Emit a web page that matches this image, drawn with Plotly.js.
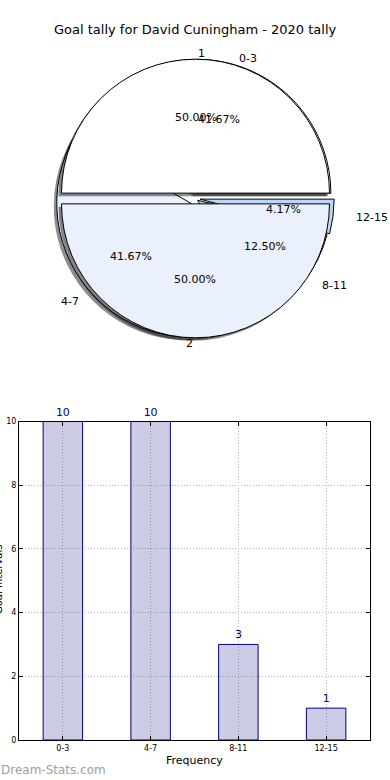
<!DOCTYPE html>
<html>
<head>
<meta charset="utf-8">
<script src="https://cdn.plot.ly/plotly-3.0.1.min.js"></script>
<style>html,body{margin:0;padding:0;background:#fff;}#chart{width:390px;height:780px;}</style>
</head>
<body>
<div id="chart"></div>
<script>
// ---- data ----
const categories = ['0-3', '4-7', '8-11', '12-15'];
const counts = [10, 10, 3, 1];
const halfLabels = ['1', '2'];
const halfValues = [12, 12];
const titleText = 'Goal tally for David Cuningham - 2020 tally';
const xTitle = 'Frequency';
const yTitle = 'Goal Intervals';
const watermark = 'Dream-Stats.com';

// ---- styles ----
const W = 390, H = 780;
const FONT = 'DejaVu Sans, sans-serif';
const pieColors = ['#ffffff', '#eaf1fd', '#bcd5fa', '#bcd5fa'];
const halfColors = ['#ffffff', '#eaf1fd'];
const piePull = [0.04, 0.05, 0.02, 0.035];
const halfPull = [0.04, 0.04];
const cx = 195.5, cy = 198.5, R = 134;     // pie center/radius in px
const tRx = 140.5, tRy = 127;               // text ellipse radii

function pieDomain(pulls, dx, dy) {
  const mp = Math.max(...pulls);
  const half = R * (1 + mp);
  return {
    x: [(cx + dx - half) / W, (cx + dx + half) / W],
    y: [1 - (cy + dy + half) / H, 1 - (cy + dy - half) / H]
  };
}

// Plotly (counterclockwise) puts the END of the first slice at `rotation`;
// make the first slice START at 3 o'clock like the reference.
function startAt3(values) {
  const total = values.reduce((a, b) => a + b, 0);
  return 90 - values[0] / total * 360;
}

function pieTrace(labels, values, colors, pulls, dx, dy, shadow) {
  return {
    type: 'pie', labels: labels, values: values, sort: false,
    direction: 'counterclockwise', rotation: startAt3(values),
    pull: pulls, textinfo: 'none', hoverinfo: 'label+percent',
    showlegend: false,
    marker: shadow
      ? {colors: labels.map(() => 'rgba(0,0,0,0.45)'), line: {width: 0}}
      : {colors: colors, line: {color: '#000000', width: 1}},
    domain: pieDomain(pulls, dx, dy)
  };
}

const annotations = [];
function pieTexts(labels, values, pulls) {
  const total = values.reduce((a, b) => a + b, 0);
  let start = 0;
  values.forEach((v, i) => {
    const frac = v / total;
    const th = (start + frac / 2) * 2 * Math.PI;
    start += frac;
    const c = Math.cos(th), s = Math.sin(th);
    const kp = 0.6 + pulls[i], kl = 1.1 + pulls[i];
    annotations.push({
      xref: 'paper', yref: 'paper', showarrow: false,
      x: (cx + tRx * kp * c) / W, y: 1 - (cy - tRy * kp * s) / H,
      xanchor: 'center', yanchor: 'middle',
      text: (frac * 100).toFixed(2) + '%',
      font: {family: FONT, size: 11, color: '#000'}
    });
    annotations.push({
      xref: 'paper', yref: 'paper', showarrow: false,
      x: (cx + tRx * kl * c) / W, y: 1 - (cy - tRy * kl * s) / H,
      xanchor: c > 0 ? 'left' : 'right', yanchor: 'middle',
      text: labels[i],
      font: {family: FONT, size: 11, color: '#000'}
    });
  });
}
pieTexts(categories, counts, piePull);
pieTexts(halfLabels, halfValues, halfPull);

annotations.push({
  xref: 'paper', yref: 'paper', showarrow: false,
  x: 195 / W, y: 1 - 30 / H, xanchor: 'center', yanchor: 'middle',
  text: titleText, font: {family: FONT, size: 13, color: '#000'}
});
annotations.push({
  xref: 'paper', yref: 'paper', showarrow: false,
  x: -2 / W, y: 1 - 580 / H, xanchor: 'center', yanchor: 'middle',
  textangle: -90, text: yTitle, font: {family: FONT, size: 10, color: '#000'}
});
annotations.push({
  xref: 'paper', yref: 'paper', showarrow: false,
  x: 194 / W, y: 1 - 760 / H, xanchor: 'center', yanchor: 'middle',
  text: xTitle, font: {family: FONT, size: 11, color: '#000'}
});
annotations.push({
  xref: 'paper', yref: 'paper', showarrow: false,
  x: -1 / W, y: 1 - 770 / H, xanchor: 'left', yanchor: 'middle',
  text: watermark, font: {family: FONT, size: 12, color: '#a0a0a0'}
});

const traces = [
  pieTrace(categories, counts, pieColors, piePull, -3, 3, true),
  pieTrace(categories, counts, pieColors, piePull, 0, 0, false),
  pieTrace(halfLabels, halfValues, halfColors, halfPull, -3, 3, true),
  pieTrace(halfLabels, halfValues, halfColors, halfPull, 0, 0, false),
  {
    type: 'bar', x: categories, y: counts, width: 0.45,
    marker: {color: 'rgba(0,0,128,0.2)', line: {color: '#000080', width: 1}},
    text: counts.map(String), textposition: 'outside', cliponaxis: false,
    textfont: {family: FONT, size: 11, color: '#000080'},
    hoverinfo: 'x+y', showlegend: false, xaxis: 'x', yaxis: 'y'
  }
];

const axisCommon = {
  showline: true, linecolor: '#000', linewidth: 1, mirror: 'ticks',
  ticks: 'inside', ticklen: 4, tickcolor: '#000',
  showgrid: true, gridcolor: '#b8b8b8', griddash: '1px,2px', gridwidth: 1,
  zeroline: false, tickfont: {family: FONT, size: 8, color: '#000'}
};

const layout = {
  width: W, height: H,
  margin: {l: 0, r: 0, t: 0, b: 0},
  paper_bgcolor: '#fff', plot_bgcolor: '#fff',
  font: {family: FONT},
  xaxis: Object.assign({}, axisCommon, {
    domain: [19 / W, 370 / W], anchor: 'y',
    type: 'category', range: [-0.5, 3.5]
  }),
  yaxis: Object.assign({}, axisCommon, {
    domain: [1 - 740 / H, 1 - 421.5 / H], anchor: 'x',
    range: [0, 10], tickvals: [0, 2, 4, 6, 8, 10]
  }),
  annotations: annotations
};

Plotly.newPlot('chart', traces, layout, {staticPlot: true, displayModeBar: false});
</script>
</body>
</html>
